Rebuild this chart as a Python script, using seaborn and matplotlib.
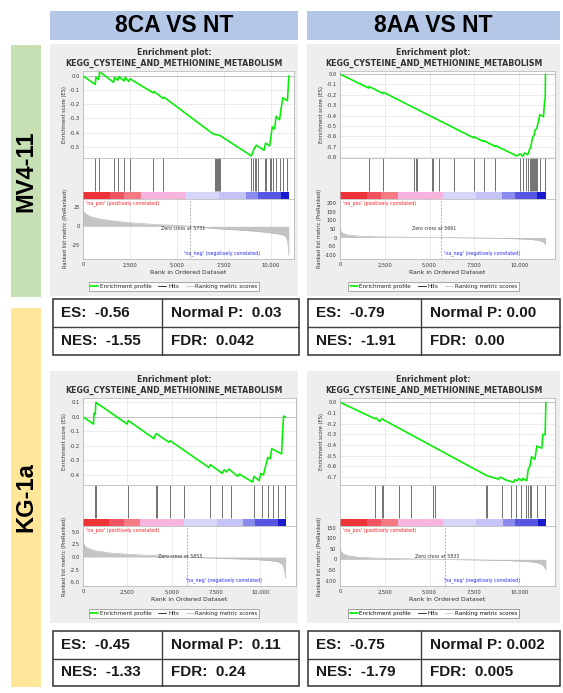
import matplotlib
matplotlib.use("Agg")
import matplotlib.pyplot as plt
from matplotlib.lines import Line2D
from matplotlib.patches import Rectangle
import pandas as pd
import seaborn as sns

sns.set_theme(style="white")
plt.rcParams["font.family"] = ["DejaVu Sans"]
plt.rcParams["axes.unicode_minus"] = False

W, H = 563, 693

# labels
col_labels = ["8CA VS NT", "8AA VS NT"]
row_labels = ["MV4-11", "KG-1a"]
gene_set = "KEGG_CYSTEINE_AND_METHIONINE_METABOLISM"

# stats per panel (MV4-11 8CA, MV4-11 8AA, KG-1a 8CA, KG-1a 8AA)
es_txt = ["-0.56", "-0.79", "-0.45", "-0.75"]
nes_txt = ["-1.55", "-1.91", "-1.33", "-1.79"]
p_txt = ["0.03", "0.00", "0.11", "0.002"]
fdr_txt = ["0.042", "0.00", "0.24", "0.005"]
zero_cross = [5731, 5661, 5855, 5833]

# ---- MV4-11, 8CA vs NT
mv_ca_rank = [0, 655, 690, 830, 885, 1630, 1680, 1860, 1910, 2195, 2250, 2440, 2500, 3750, 3790,
              4280, 4320, 6940, 7290, 8975, 9030, 9100, 9240, 9650, 9735, 9950, 10020, 10090,
              10210, 10300, 10480, 10570, 10655, 10900, 10975]
mv_ca_es = [0, -0.06, -0.01, -0.025, 0.03, -0.045, -0.01, -0.03, -0.005, -0.035, -0.01, -0.04, -0.02,
            -0.12, -0.11, -0.16, -0.15, -0.41, -0.42, -0.565, -0.55, -0.52, -0.49, -0.525, -0.475,
            -0.495, -0.43, -0.36, -0.375, -0.285, -0.31, -0.225, -0.155, -0.175, 0.0]
mv_ca_hits = [620, 830, 1660, 1890, 2195, 2510, 3720, 4280, 7030, 7080, 7150, 7200, 7260, 7330,
              8975, 9060, 9150, 9240, 9330, 9680, 9770, 9950, 10040, 10120, 10300, 10480, 10650, 10870]
mv_ca_mrank = [0, 60, 210, 500, 920, 1800, 2690, 4000, 5350, 5731, 7000, 8000, 9000, 9770, 10300,
               10650, 10830, 10920, 10975]
mv_ca_metric = [22, 18, 15, 12, 9.6, 6.5, 4.3, 2.2, 0.9, 0, -2.8, -4.3, -6, -7.8, -9.5, -11, -14, -20, -38]

# ---- MV4-11, 8AA vs NT
mv_aa_rank = [0, 1600, 1620, 2400, 2420, 7450, 7470, 8000, 8020, 8650, 8670, 9870, 10055, 10200,
              10300, 10480, 10575, 10650, 10745, 10835, 10895, 10985, 11060, 11155, 11360, 11415,
              11450, 11470]
mv_aa_es = [0, -0.135, -0.12, -0.187, -0.175, -0.615, -0.605, -0.651, -0.642, -0.697, -0.69, -0.79,
            -0.77, -0.793, -0.762, -0.778, -0.73, -0.705, -0.612, -0.59, -0.536, -0.527, -0.465,
            -0.392, -0.411, -0.26, -0.248, 0.0]
mv_aa_hits = [1620, 2420, 4150, 4245, 4320, 5160, 5215, 5550, 6370, 7500, 8010, 8660, 10020, 10240,
              10390, 10480, 10580, 10650, 10710, 10760, 10800, 10860, 10950, 11020, 11135, 11450]
mv_aa_mrank = [0, 50, 150, 400, 1000, 2000, 3500, 5661, 8000, 9500, 10500, 11000, 11300, 11400, 11470]
mv_aa_metric = [50, 35, 25, 15, 8, 4, 2, 0, -3, -6, -10, -15, -22, -30, -42]

# ---- KG-1a, 8CA vs NT
kg_ca_rank = [0, 595, 615, 690, 725, 2490, 2545, 3995, 4050, 4125, 4835, 4910, 7100, 7175, 7845,
              7955, 8085, 8215, 8720, 8810, 9555, 9630, 9925, 10020, 10170, 10225, 10410, 10540,
              10635, 11190, 11230, 11300, 11415]
kg_ca_es = [0, -0.05, 0.025, 0.02, 0.1, -0.05, -0.025, -0.15, -0.13, -0.115, -0.175, -0.165, -0.35,
            -0.33, -0.39, -0.365, -0.38, -0.36, -0.41, -0.395, -0.45, -0.41, -0.44, -0.39, -0.4,
            -0.37, -0.28, -0.29, -0.22, -0.255, -0.135, 0.005, 0.0]
kg_ca_hits = [650, 725, 2545, 4090, 4165, 4910, 5705, 7155, 7845, 8310, 9610, 10075, 10450, 10725,
              10970, 11380]
kg_ca_mrank = [0, 50, 130, 600, 1500, 3000, 4500, 5855, 7500, 9500, 10500, 11000, 11250, 11350, 11415]
kg_ca_metric = [3.2, 2.5, 2.0, 1.3, 0.8, 0.45, 0.2, 0, -0.25, -0.45, -0.7, -0.95, -1.5, -2.6, -4.2]

# ---- KG-1a, 8AA vs NT
kg_aa_rank = [0, 1955, 2010, 2200, 2330, 7450, 8190, 8845, 8940, 9215, 9400, 9680, 9755, 9900, 9980,
              10150, 10200, 10430, 10500, 10600, 10690, 10875, 10985, 11265, 11320, 11450, 11490]
kg_aa_es = [0, -0.155, -0.146, -0.18, -0.155, -0.62, -0.687, -0.72, -0.70, -0.725, -0.735, -0.75,
            -0.725, -0.735, -0.715, -0.735, -0.715, -0.735, -0.63, -0.6, -0.51, -0.535, -0.41, -0.43,
            -0.3, -0.305, 0.0]
kg_aa_hits = [1955, 2330, 2385, 3315, 3965, 5215, 5305, 8155, 8230, 9030, 9535, 9830, 10090, 10390,
              10480, 10580, 10650, 10985, 11415]
kg_aa_mrank = [0, 50, 150, 400, 1000, 2000, 3500, 5833, 8000, 9500, 10500, 11000, 11300, 11400, 11490]
kg_aa_metric = [50, 38, 28, 18, 10, 6, 3, 0, -3, -6, -10, -15, -25, -35, -50]

# rank colour bar (fractions of list length)
cbar_edges = [0, 0.13, 0.2, 0.28, 0.5, 0.66, 0.79, 0.85, 0.96, 1.0]
cbar_colors = ["#ee3338", "#f15460", "#f57a84", "#f6b4de", "#d6d6fa", "#c4c4f6", "#8a8aee",
               "#5656e2", "#1a1acc"]

panels = [
    dict(rank=mv_ca_rank, es=mv_ca_es, hits=mv_ca_hits, mrank=mv_ca_mrank, metric=mv_ca_metric,
         es_ticks=[0.0, -0.1, -0.2, -0.3, -0.4, -0.5], es_lim=(-0.58, 0.035),
         m_ticks=[-25, 0, 25], m_lim=(-43, 36), m_fmt="{:.0f}", xmax=11250),
    dict(rank=mv_aa_rank, es=mv_aa_es, hits=mv_aa_hits, mrank=mv_aa_mrank, metric=mv_aa_metric,
         es_ticks=[0.0, -0.1, -0.2, -0.3, -0.4, -0.5, -0.6, -0.7, -0.8], es_lim=(-0.81, 0.03),
         m_ticks=[-100, -50, 0, 50, 100, 150, 200], m_lim=(-125, 224), m_fmt="{:.0f}", xmax=12000),
    dict(rank=kg_ca_rank, es=kg_ca_es, hits=kg_ca_hits, mrank=kg_ca_mrank, metric=kg_ca_metric,
         es_ticks=[0.1, 0.0, -0.1, -0.2, -0.3, -0.4], es_lim=(-0.47, 0.13),
         m_ticks=[-5.0, -2.5, 0.0, 2.5, 5.0], m_lim=(-5.8, 6.2), m_fmt="{:.1f}", xmax=12000),
    dict(rank=kg_aa_rank, es=kg_aa_es, hits=kg_aa_hits, mrank=kg_aa_mrank, metric=kg_aa_metric,
         es_ticks=[0.0, -0.1, -0.2, -0.3, -0.4, -0.5, -0.6, -0.7], es_lim=(-0.775, 0.04),
         m_ticks=[-100, -50, 0, 50, 100, 150], m_lim=(-126, 158), m_fmt="{:.0f}", xmax=12000),
]

# layout in pixels
col_x = [(50, 298), (307, 560)]
axes_x = [[(83, 294), (340, 555)], [(83, 296), (340, 555)]]
row_y = [44, 371]
panel_bottom = [296, 623]
table_y = [(299, 355), (631, 686)]
table_x = [(53, 162, 299), (308, 421, 560)]


def rect(x0, y0, x1, y1):
    return [x0 / W, 1 - y1 / H, (x1 - x0) / W, (y1 - y0) / H]


fig = plt.figure(figsize=(W / 100, H / 100), dpi=100)
bg = fig.add_axes([0, 0, 1, 1])
bg.set_xlim(0, W)
bg.set_ylim(H, 0)
bg.axis("off")

# headers
head_font = dict(family=["Liberation Sans", "DejaVu Sans"], fontweight="bold", color="black")
for c, lab in enumerate(col_labels):
    x0, x1 = col_x[c]
    bg.add_patch(Rectangle((x0, 11), x1 - x0, 29, fc="#b4c7e7", ec="none"))
    bg.text((x0 + x1) / 2, 26, lab, ha="center", va="center", fontsize=16.5, **head_font)

row_box = [(45, 297, "#c6e0b4"), (308, 687, "#ffe699")]
for r, lab in enumerate(row_labels):
    y0, y1, col = row_box[r]
    bg.add_patch(Rectangle((11, y0), 30, y1 - y0, fc=col, ec="none"))
    bg.text(26, (y0 + y1) / 2, lab, ha="center", va="center", rotation=90, fontsize=17, **head_font)

ticks_x = [0, 2500, 5000, 7500, 10000]
grid_col = "#e4e4e4"
spine_col = "#b0b0b0"

for i, p in enumerate(panels):
    r, c = divmod(i, 2)
    y0 = row_y[r]
    a0, a1 = axes_x[r][c]
    px0, px1 = col_x[c]
    n_genes = p["rank"][-1]

    bg.add_patch(Rectangle((px0, y0), px1 - px0, panel_bottom[r] - y0, fc="#eeeeee", ec="none"))
    bg.text((px0 + px1) / 2, y0 + 8.5, "Enrichment plot:", ha="center", va="center",
            fontsize=5.7, fontweight="bold", color="#333333")
    bg.text((px0 + px1) / 2, y0 + 19, gene_set, ha="center", va="center",
            fontsize=5.7, fontweight="bold", color="#333333")

    # running enrichment score
    ax_es = fig.add_axes(rect(a0, y0 + 27, a1, y0 + 114))
    ax_es.set_facecolor("white")
    ax_es.axhline(0, color="#b8b8b8", lw=0.6)
    df_es = pd.DataFrame({"rank": p["rank"], "es": p["es"]})
    sns.lineplot(data=df_es, x="rank", y="es", ax=ax_es, color="#00f000", lw=1.15,
                 estimator=None, sort=False)
    ax_es.set_xlim(0, p["xmax"])
    ax_es.set_ylim(*p["es_lim"])
    ax_es.set_xticks(ticks_x)
    ax_es.set_xticklabels([])
    ax_es.set_yticks(p["es_ticks"])
    ax_es.set_yticklabels(["{:.1f}".format(v) for v in p["es_ticks"]])
    ax_es.tick_params(axis="y", labelsize=3.7, length=1.5, pad=1, colors="#333333")
    ax_es.tick_params(axis="x", length=0)
    ax_es.grid(True, color=grid_col, lw=0.5)
    ax_es.set_xlabel("")
    ax_es.set_ylabel("Enrichment score (ES)", fontsize=3.7, labelpad=2, color="#333333")

    # hits + colour bar
    ax_h = fig.add_axes(rect(a0, y0 + 114, a1, y0 + 155))
    ax_h.set_xlim(0, p["xmax"])
    ax_h.set_ylim(0, 1)
    ax_h.vlines(p["hits"], 0.2, 1, color="#3a3a3a", lw=0.5)
    lefts = [e * n_genes for e in cbar_edges[:-1]]
    widths = [(b - a) * n_genes for a, b in zip(cbar_edges[:-1], cbar_edges[1:])]
    ax_h.barh(0, widths, left=lefts, height=0.17, align="edge", color=cbar_colors, lw=0)
    ax_h.set_xticks([])
    ax_h.set_yticks([])

    # ranked list metric
    ax_m = fig.add_axes(rect(a0, y0 + 155, a1, y0 + 215))
    ax_m.set_facecolor("white")
    ax_m.fill_between(p["mrank"], p["metric"], 0, color="#c4c4c4", lw=0)
    df_m = pd.DataFrame({"rank": p["mrank"], "metric": p["metric"]})
    sns.lineplot(data=df_m, x="rank", y="metric", ax=ax_m, color="#b8b8b8", lw=0.5,
                 estimator=None, sort=False)
    zc = zero_cross[i]
    ax_m.axvline(zc, color="#9a9a9a", lw=0.6, ls=(0, (2, 2)))
    ax_m.set_xlim(0, p["xmax"])
    ax_m.set_ylim(*p["m_lim"])
    ax_m.set_xticks(ticks_x)
    ax_m.set_xticklabels(["{:,}".format(v) for v in ticks_x])
    ax_m.set_yticks(p["m_ticks"])
    ax_m.set_yticklabels([p["m_fmt"].format(v) for v in p["m_ticks"]])
    ax_m.tick_params(labelsize=3.7, length=1.5, pad=1, colors="#333333")
    ax_m.grid(True, axis="x", color=grid_col, lw=0.5)
    ax_m.set_xlabel("Rank in Ordered Dataset", fontsize=4.4, labelpad=1.5, color="#333333")
    ax_m.set_ylabel("Ranked list metric (PreRanked)", fontsize=3.7, labelpad=2, color="#333333")
    ax_m.text(0.012, 0.985, "'na_pos' (positively correlated)", transform=ax_m.transAxes,
              color="#ff2020", fontsize=3.4, va="top")
    ax_m.text(zc - 400, 0.5, "Zero cross at {}".format(zc), transform=ax_m.get_xaxis_transform(),
              fontsize=3.4, ha="center", va="center", color="#333333")
    ax_m.text(0.66, 0.05, "'na_neg' (negatively correlated)", transform=ax_m.transAxes,
              color="#2a2aff", fontsize=3.4, ha="center", va="bottom")

    for ax in (ax_es, ax_h, ax_m):
        for s in ax.spines.values():
            s.set_color(spine_col)
            s.set_linewidth(0.5)

    handles = [Line2D([], [], color="#00f000", lw=1.2),
               Line2D([], [], color="#333333", lw=0.7),
               Line2D([], [], color="#cccccc", lw=0.7)]
    leg = bg.legend(handles, ["Enrichment profile", "Hits", "Ranking metric scores"],
                    loc="center", bbox_to_anchor=((px0 + px1) / 2, y0 + 242.5),
                    bbox_transform=bg.transData, ncol=3, fontsize=4.1, frameon=True,
                    fancybox=False, handlelength=1.4, handletextpad=0.3, columnspacing=1.2,
                    borderpad=0.3)
    leg.get_frame().set_edgecolor("#888888")
    leg.get_frame().set_linewidth(0.6)
    bg.add_artist(leg)

    # stats table
    ty0, ty1 = table_y[r]
    tx0, txm, tx1 = table_x[c]
    tm = (ty0 + ty1) / 2
    bg.add_patch(Rectangle((tx0, ty0), tx1 - tx0, ty1 - ty0, fc="white", ec="#404040", lw=1.2))
    bg.plot([tx0, tx1], [tm, tm], color="#404040", lw=1.0)
    bg.plot([txm, txm], [ty0, ty1], color="#404040", lw=1.0)
    tfont = dict(family=["Liberation Sans", "DejaVu Sans"], fontweight="bold", fontsize=11,
                 color="#1a1a1a", va="center")
    gap = "  " if c == 0 else " "
    bg.text(tx0 + 8, (ty0 + tm) / 2, "ES:  " + es_txt[i], **tfont)
    bg.text(tx0 + 8, (tm + ty1) / 2, "NES:  " + nes_txt[i], **tfont)
    bg.text(txm + 9, (ty0 + tm) / 2, "Normal P:" + gap + p_txt[i], **tfont)
    bg.text(txm + 9, (tm + ty1) / 2, "FDR:  " + fdr_txt[i], **tfont)

fig.savefig("out.png", dpi=100)
